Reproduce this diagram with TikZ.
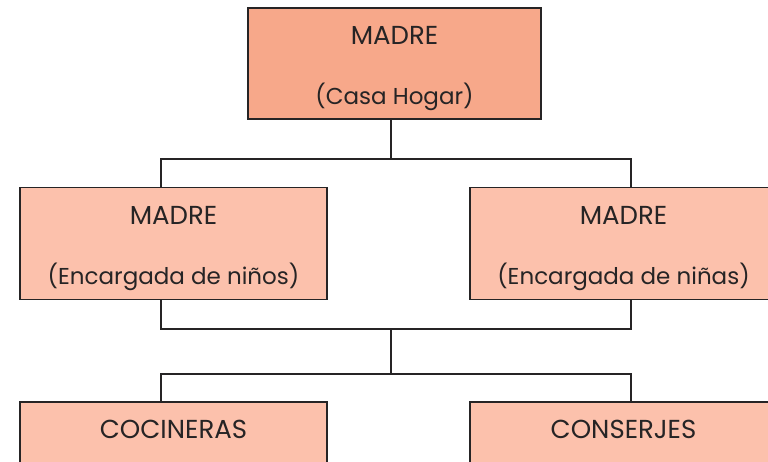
\documentclass[tikz,border=0pt]{standalone}
\usepackage{fontspec}
\setmainfont{Poppins}
\definecolor{topfill}{RGB}{247,168,138}
\definecolor{boxfill}{RGB}{252,193,172}
\definecolor{linec}{RGB}{38,36,37}
\newcommand{\uplift}{\rule{0pt}{29pt}}
\newcommand{\bigcaps}[1]{{\fontsize{26}{60}\selectfont #1}}
\begin{document}
\begin{tikzpicture}[x=1pt,y=-1pt,
  box/.style={draw=linec,line width=1.5pt,fill=boxfill,inner sep=0pt,
    minimum width=307pt,minimum height=112pt,align=center,
    font=\fontsize{23}{60}\selectfont,text=linec},
  conn/.style={draw=linec,line width=1.5pt}]
\useasboundingbox (0,0) rectangle (768,461);
\clip (0,0) rectangle (768,461);
\node[box,fill=topfill,minimum width=293pt,minimum height=111pt] (top) at (394.5,63.5) {\uplift\bigcaps{MADRE}\\(Casa Hogar)};
\node[box] (l) at (173.5,243.5) {\uplift\bigcaps{MADRE}\\(Encargada de niños)};
\node[box] (r) at (623.5,243.5) {\uplift\bigcaps{MADRE}\\(Encargada de niñas)};
\node[box] (c) at (173.5,459) {\rule{0pt}{36pt}\bigcaps{COCINERAS}\\\strut};
\node[box] (k) at (623.5,459) {\rule{0pt}{36pt}\bigcaps{CONSERJES}\\\strut};
\coordinate (j1) at (391,159);
\coordinate (bl1) at (161,159);
\coordinate (br1) at (631,159);
\coordinate (j2) at (391,329);
\coordinate (bl2) at (161,329);
\coordinate (br2) at (631,329);
\coordinate (j3) at (391,374);
\coordinate (bl3) at (161,374);
\coordinate (br3) at (631,374);
\draw[conn] (top.south -| j1) -- (j1);
\draw[conn] (l.north -| bl1) -- (bl1) -- (br1) -- (r.north -| br1);
\draw[conn] (l.south -| bl2) -- (bl2) -- (br2) -- (r.south -| br2);
\draw[conn] (j2) -- (j3);
\draw[conn] (c.north -| bl3) -- (bl3) -- (br3) -- (k.north -| br3);
\end{tikzpicture}
\end{document}
